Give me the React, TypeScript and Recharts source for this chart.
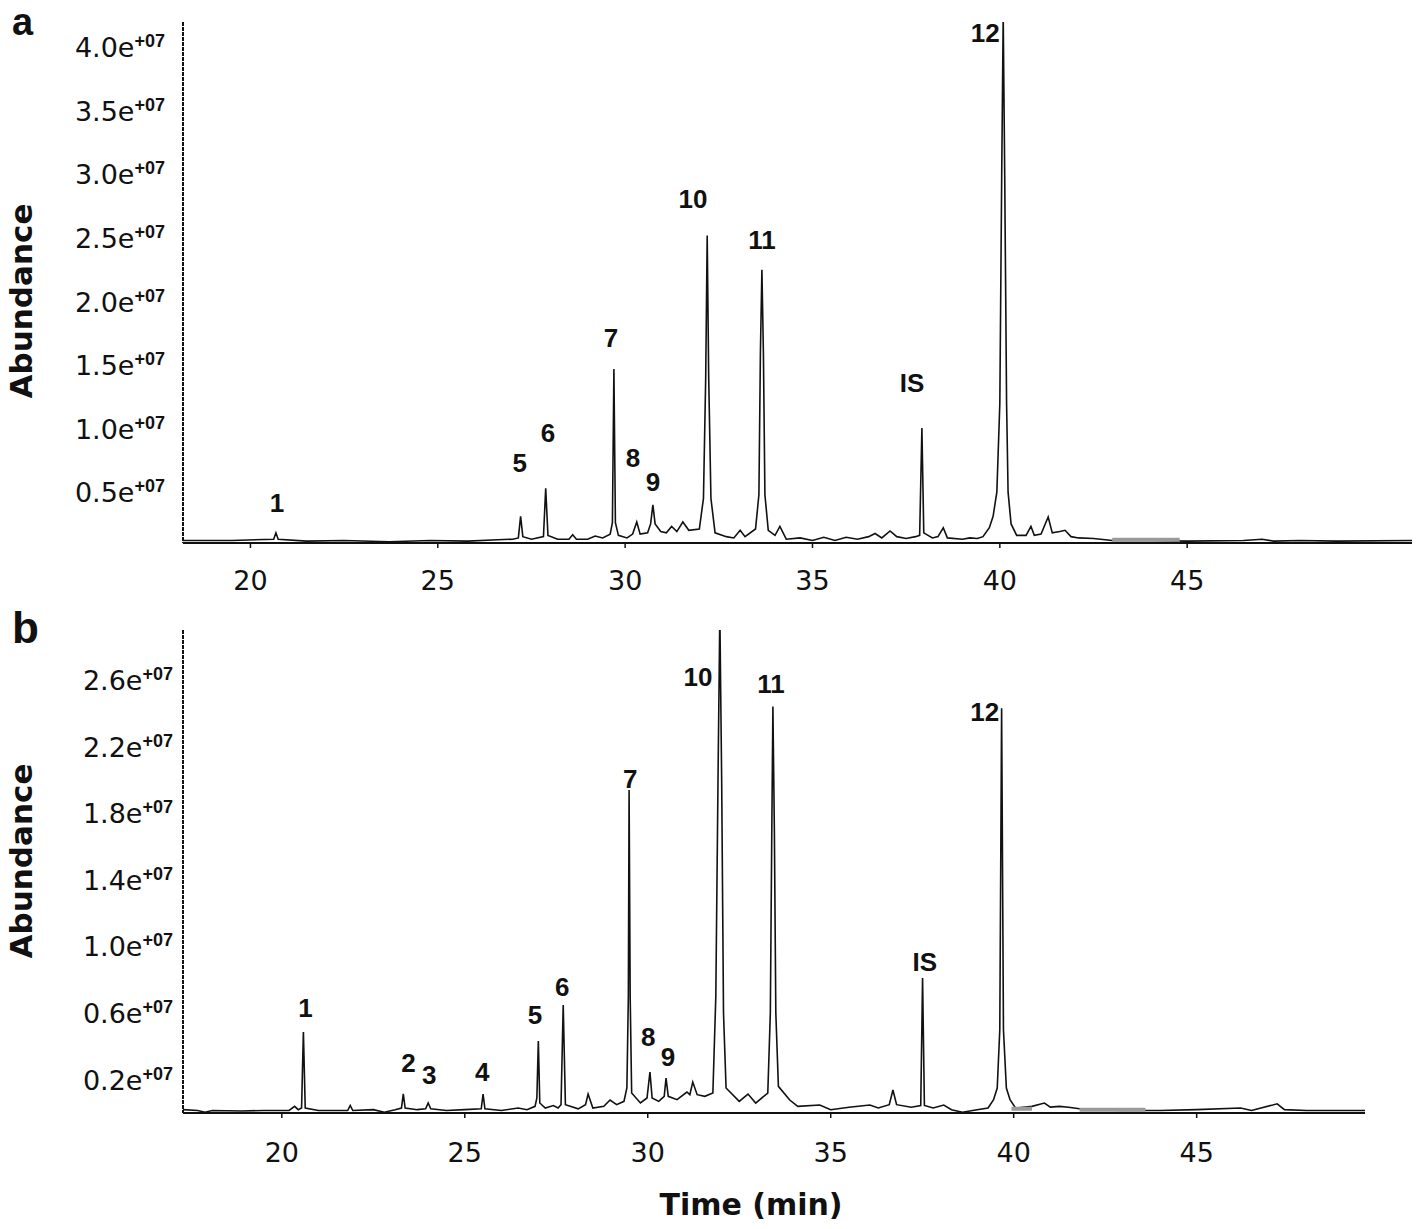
import { LineChart, Line, XAxis, YAxis, ReferenceDot } from "recharts"

// Panel a — retention time (min) and abundance (×1e6)
const timeA = [
  18.2, 19.5, 20.62, 20.68, 20.74, 21.5, 22.5, 23.7, 24.8, 25.8, 26.6,
  27.0, 27.15, 27.21, 27.27, 27.5, 27.82, 27.88, 27.94, 28.2, 28.5, 28.6, 28.7,
  29.0, 29.2, 29.4, 29.6, 29.66, 29.7, 29.74, 29.82, 30.05, 30.2, 30.31, 30.4,
  30.6, 30.68, 30.74, 30.8, 30.95, 31.1, 31.24, 31.38, 31.54, 31.7,
  31.98, 32.09, 32.15, 32.19, 32.23, 32.29, 32.4, 32.7, 32.9, 33.07, 33.2,
  33.48, 33.57, 33.61, 33.65, 33.69, 33.73, 33.82, 34.0, 34.13, 34.3,
  34.67, 35.0, 35.3, 35.6, 35.9, 36.2, 36.5, 36.67, 36.85, 37.07, 37.25, 37.5, 37.75,
  37.86, 37.92, 37.97, 38.2, 38.35, 38.49, 38.6, 39.0, 39.2, 39.4,
  39.55, 39.72, 39.82, 39.92, 40.0, 40.05, 40.09, 40.13, 40.18, 40.22, 40.3, 40.45,
  40.7, 40.83, 40.92, 41.1, 41.29, 41.4, 41.6, 41.74, 41.9, 42.1, 42.5, 43.0,
  44.0, 45.0, 46.5, 47.0, 47.3, 48.0, 49.0, 51.0,
]
const abundA = [
  1.2, 1.2, 1.3, 1.8, 1.3, 1.15, 1.2, 1.1, 1.2, 1.15, 1.25,
  1.3, 1.4, 3.1, 1.5, 1.3, 1.5, 5.3, 1.6, 1.3, 1.3, 1.65, 1.3,
  1.3, 1.55, 1.4, 1.7, 2.6, 14.7, 2.6, 1.6, 1.4, 1.7, 2.65, 1.7,
  1.8, 2.5, 4.0, 2.5, 1.9, 1.8, 2.3, 1.9, 2.65, 2.0,
  2.1, 4.5, 14, 25.2, 14, 4.5, 1.8, 1.5, 1.4, 2.0, 1.5,
  2.1, 4.8, 16, 22.5, 16, 4.8, 2.0, 1.6, 2.3, 1.3,
  1.4, 1.2, 1.45, 1.2, 1.45, 1.3, 1.5, 1.75, 1.4, 1.95, 1.5, 1.35, 1.5,
  1.6, 10.05, 1.8, 1.4, 1.5, 2.2, 1.4, 1.3, 1.4, 1.35,
  1.5, 2.2, 3.1, 5, 12, 30, 42.5, 30, 12, 5, 2.5, 1.6,
  1.6, 2.3, 1.6, 1.7, 3.05, 1.8, 1.9, 2.0, 1.5, 1.4, 1.35, 1.2,
  1.2, 1.15, 1.2, 1.3, 1.15, 1.2, 1.15, 1.2,
]
const greyTimeA = [43.0, 44.8]
const greyAbundA = [1.25, 1.25]

const peakNamesA = ["1", "5", "6", "7", "8", "9", "10", "11", "IS", "12"]
const peakLabelTimeA = [20.71, 27.19, 27.94, 29.62, 30.21, 30.74, 31.81, 33.65, 37.66, 39.61]
const peakLabelLevelA = [4.15, 7.3, 9.66, 17.13, 7.69, 5.8, 28.07, 24.84, 13.59, 41.13]

// Panel b
const timeB = [
  17.3, 17.7, 17.9, 18.1, 18.9, 19.5, 20.2, 20.35, 20.45,
  20.54, 20.59, 20.64, 21.0, 21.8, 21.87, 21.94, 22.5, 22.8, 23.1,
  23.27, 23.32, 23.37, 23.7, 23.93, 24.0, 24.07, 24.5, 25.0,
  25.45, 25.5, 25.55, 26.0, 26.46, 26.7,
  26.92, 26.97, 27.01, 27.05, 27.2, 27.42, 27.55,
  27.63, 27.69, 27.75, 28.1, 28.3, 28.37, 28.5, 28.8, 28.97, 29.15, 29.35,
  29.43, 29.47, 29.49, 29.52, 29.56, 29.8, 29.98, 30.06, 30.12, 30.3,
  30.45, 30.5, 30.56, 30.8, 31.07, 31.15, 31.23, 31.35, 31.56,
  31.78, 31.86, 31.92, 31.97, 32.02, 32.07, 32.14, 32.5, 32.74, 32.95,
  33.28, 33.35, 33.39, 33.42, 33.46, 33.5, 33.57,
  33.88, 34.1, 34.7, 35.0, 35.5, 36.07, 36.3, 36.6, 36.7, 36.8, 37.2,
  37.46, 37.51, 37.56, 37.8, 38.09, 38.3, 38.6, 39.0,
  39.3, 39.45, 39.55, 39.62, 39.67, 39.72, 39.8, 39.9, 40.05,
  40.5, 40.84, 41.0, 41.25, 41.5, 42.0, 43.0, 44.0, 45.0, 46.2, 46.5, 47.2, 47.4, 48.0, 49.6,
]
const abundB = [
  0.2, 0.15, 0.05, 0.15, 0.12, 0.15, 0.15, 0.4, 0.2,
  0.3, 4.86, 0.3, 0.15, 0.15, 0.45, 0.15, 0.2, 0.05, 0.2,
  0.3, 1.15, 0.3, 0.2, 0.25, 0.6, 0.25, 0.15, 0.2,
  0.25, 1.14, 0.25, 0.15, 0.3, 0.2,
  0.4, 0.9, 4.32, 0.6, 0.3, 0.45, 0.3,
  0.5, 6.48, 0.5, 0.25, 0.5, 1.14, 0.3, 0.4, 0.78, 0.5, 0.7,
  1.5, 7, 19.4, 7, 1.2, 0.6, 0.9, 2.46, 0.9, 0.7,
  1.0, 2.1, 1.0, 0.8, 1.26, 1.1, 1.86, 1.1, 1.0,
  1.2, 7.0, 20, 30, 20, 6, 1.5, 0.7, 1.14, 0.6,
  1.2, 6, 17, 24.4, 17, 6, 1.6,
  0.78, 0.4, 0.48, 0.2, 0.35, 0.48, 0.3, 0.5, 1.38, 0.5, 0.35,
  0.45, 8.1, 0.45, 0.3, 0.48, 0.2, 0.05, 0.2,
  0.3, 0.8, 1.5, 5, 24.3, 5, 1.5, 0.8, 0.3,
  0.4, 0.6, 0.35, 0.4, 0.35, 0.2, 0.15, 0.15, 0.2, 0.3, 0.15, 0.55, 0.2, 0.15, 0.15,
]
const greyTimeB = [39.94, 40.5, 40.51, 41.8, 43.6]
const greyAbundB = [0.25, 0.25, null, 0.2, 0.2]

const peakNamesB = ["1", "2", "3", "4", "5", "6", "7", "8", "9", "10", "11", "IS", "12"]
const peakLabelTimeB = [20.65, 23.46, 24.03, 25.48, 26.92, 27.66, 29.52, 30.01, 30.55, 31.37, 33.37, 37.57, 39.21]
const peakLabelLevelB = [6.3, 3.0, 2.28, 2.46, 5.88, 7.57, 20.05, 4.56, 3.36, 26.18, 25.76, 9.07, 24.08]

const xTicks = [20, 25, 30, 35, 40, 45]
const yTicksA = [0.5e7, 1.0e7, 1.5e7, 2.0e7, 2.5e7, 3.0e7, 3.5e7, 4.0e7]
const yTicksB = [0.2e7, 0.6e7, 1.0e7, 1.4e7, 1.8e7, 2.2e7, 2.6e7]

const rows = (t: number[], v: (number | null)[]) =>
  t.map((x, i) => ({ t: x, v: v[i] == null ? null : (v[i] as number) * 1e6 }))

const NUM_FONT = "'DejaVu Sans', Verdana, sans-serif"
const LABEL_FONT = "'Liberation Sans', Arial, sans-serif"

function SciTick(props: any) {
  const { x, y, payload, gap } = props
  const mant = (payload.value / 1e7).toFixed(1)
  return (
    <text x={x - gap} y={y + 10} textAnchor="end" fontFamily={NUM_FONT} fontSize={27} fill="#111">
      {mant}e
      <tspan dy={-10} fontSize={18} fontWeight="bold" fontFamily={LABEL_FONT}>
        +07
      </tspan>
    </text>
  )
}

function TimeTick(props: any) {
  const { x, y, payload, drop } = props
  return (
    <text x={x} y={y + drop} textAnchor="middle" fontFamily={NUM_FONT} fontSize={27} fill="#111">
      {payload.value}
    </text>
  )
}

function Panel(props: any) {
  const { data, grey, names, lt, lv, domainX, domainY, yTicks, width, height, margin, xHeight, gap, drop } = props
  return (
    <LineChart width={width} height={height} data={data} margin={margin}>
      <XAxis
        dataKey="t"
        type="number"
        domain={domainX}
        ticks={xTicks}
        allowDataOverflow
        height={xHeight}
        axisLine={{ stroke: "#111", strokeWidth: 2 }}
        tickLine={{ stroke: "#111", strokeWidth: 1.5 }}
        tickSize={5}
        tickMargin={1}
        tick={<TimeTick drop={drop} />}
      />
      <YAxis
        type="number"
        domain={domainY}
        ticks={yTicks}
        allowDataOverflow
        width={183}
        axisLine={{ stroke: "#111", strokeWidth: 2, strokeDasharray: "4 1" }}
        tickLine={false}
        tickSize={0}
        tickMargin={0}
        tick={<SciTick gap={gap} />}
      />
      <Line dataKey="v" type="linear" stroke="#111" strokeWidth={1.6} dot={false} isAnimationActive={false} />
      <Line
        data={grey}
        dataKey="v"
        type="linear"
        stroke="#9a9a9a"
        strokeWidth={4}
        dot={false}
        connectNulls={false}
        isAnimationActive={false}
      />
      {names.map((n: string, i: number) => (
        <ReferenceDot
          key={n}
          x={lt[i]}
          y={lv[i] * 1e6}
          r={0}
          fill="none"
          stroke="none"
          ifOverflow="visible"
          label={{
            value: n,
            position: "center",
            fill: "#111",
            fontSize: 26,
            fontWeight: "bold",
            fontFamily: LABEL_FONT,
          }}
        />
      ))}
    </LineChart>
  )
}

export default function App() {
  return (
    <div style={{ position: "relative", width: 1418, height: 1229, background: "#fff" }}>
      <style>{`body{margin:0;background:#fff}`}</style>
      <div style={{ position: "absolute", left: 0, top: 0 }}>
        <Panel
          data={rows(timeA, abundA)}
          grey={rows(greyTimeA, greyAbundA)}
          names={peakNamesA}
          lt={peakLabelTimeA}
          lv={peakLabelLevelA}
          domainX={[18.2, 51.0]}
          domainY={[1e6, 4.2e7]}
          yTicks={yTicksA}
          width={1418}
          height={600}
          margin={{ top: 22, right: 6, bottom: 0, left: 0 }}
          xHeight={57}
          gap={18}
          drop={41}
        />
      </div>
      <div style={{ position: "absolute", left: 0, top: 600 }}>
        <Panel
          data={rows(timeB, abundB)}
          grey={rows(greyTimeB, greyAbundB)}
          names={peakNamesB}
          lt={peakLabelTimeB}
          lv={peakLabelLevelB}
          domainX={[17.3, 49.6]}
          domainY={[0, 2.9e7]}
          yTicks={yTicksB}
          width={1418}
          height={629}
          margin={{ top: 30, right: 53, bottom: 0, left: 0 }}
          xHeight={116}
          gap={10}
          drop={43}
        />
      </div>
      <svg
        width={1418}
        height={1229}
        style={{ position: "absolute", left: 0, top: 0, pointerEvents: "none" }}
      >
        <text x={12} y={35} fontFamily={LABEL_FONT} fontWeight="bold" fontSize={38} fill="#111">
          a
        </text>
        <text x={12} y={643} fontFamily={LABEL_FONT} fontWeight="bold" fontSize={44} fill="#111">
          b
        </text>
        <text
          x={32}
          y={301}
          transform="rotate(-90 32 301)"
          textAnchor="middle"
          fontFamily={NUM_FONT}
          fontWeight="bold"
          fontSize={31}
          fill="#111"
        >
          Abundance
        </text>
        <text
          x={32}
          y={861}
          transform="rotate(-90 32 861)"
          textAnchor="middle"
          fontFamily={NUM_FONT}
          fontWeight="bold"
          fontSize={31}
          fill="#111"
        >
          Abundance
        </text>
        <text x={751} y={1215} textAnchor="middle" fontFamily={NUM_FONT} fontWeight="bold" fontSize={30} fill="#111">
          Time (min)
        </text>
      </svg>
    </div>
  )
}
